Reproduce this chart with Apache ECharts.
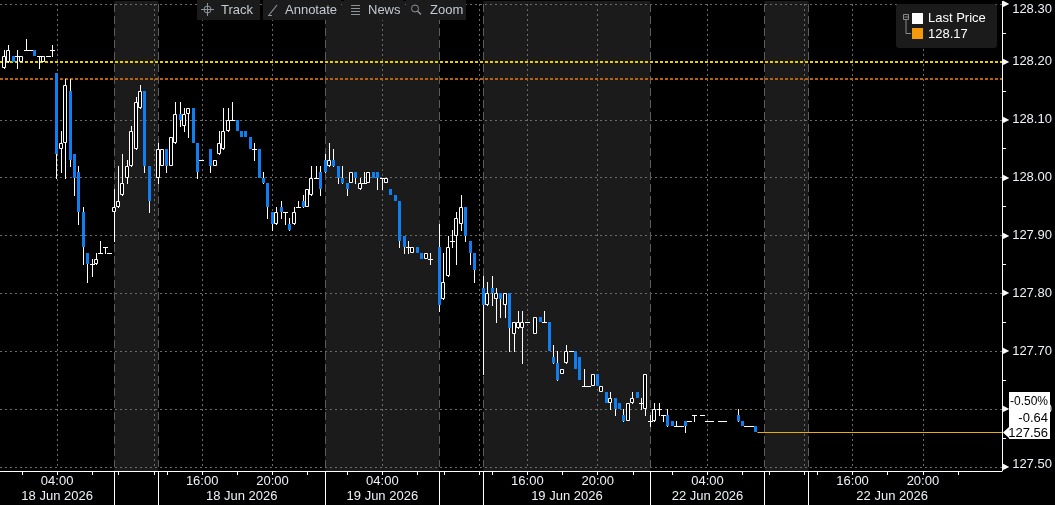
<!DOCTYPE html>
<html>
<head>
<meta charset="utf-8">
<script src="https://cdn.jsdelivr.net/npm/echarts@6/dist/echarts.min.js"></script>
<style>
html,body{margin:0;padding:0;background:#000;}
#chart{width:1055px;height:505px;}
</style>
</head>
<body>
<div id="chart"></div>
<script>
// ---------- DATA ----------
// trading sessions: [date, first 15-min slot, number of slots]
const sessions = [
  ['18 Jun 2026', '00:45', 26],
  ['18 Jun 2026', '09:45', 10],
  ['18 Jun 2026', '13:30', 38],
  ['19 Jun 2026', '00:45', 26],
  ['19 Jun 2026', '09:45', 10],
  ['19 Jun 2026', '13:30', 38],
  ['22 Jun 2026', '00:45', 26],
  ['22 Jun 2026', '09:45', 10],
  ['22 Jun 2026', '13:30', 38]
];
const padSlots = 6;
const timeLabels = ['04:00', '16:00', '20:00'];
const gridTimes = ['04:00', '12:00', '16:00', '20:00'];
const dateLabelTimes = ['04:00', '18:15'];
const yLabels = ['127.50', '127.60', '127.70', '127.80', '127.90', '128.00', '128.10', '128.20', '128.30'];
const prevClose = 128.20;
const refLine = 128.17;
const legendName = 'Last Price';
const toolbarItems = ['Track', 'Annotate', 'News', 'Zoom'];

const opens = [
  128.19,128.20,128.21,128.21,128.20,128.22,128.22,128.22,128.21,128.20,
  128.21,128.22,128.18,128.05,128.06,128.15,128.04,128.01,127.94,127.87,
  127.85,127.85,127.87,127.88,127.87,127.94,127.95,127.97,128.00,128.02,
  128.05,128.12,128.15,128.02,null,128.00,128.02,128.05,128.02,128.06,
  128.11,128.09,128.11,128.12,128.06,128.03,null,128.05,128.02,128.04,
  128.05,128.08,128.10,128.10,128.08,128.08,128.07,128.05,128.05,128.00,
  127.99,127.94,127.92,127.95,127.94,127.92,127.92,127.95,127.96,127.95,
  127.97,128.00,128.01,128.03,128.02,128.03,128.02,128.00,127.99,127.99,
  128.01,127.98,127.99,127.99,128.01,128.01,128.00,127.99,127.98,127.97,
  127.96,127.90,127.88,127.87,127.88,127.87,127.86,127.86,null,127.88,
  127.79,127.83,127.89,127.90,127.92,127.95,127.89,127.87,null,127.81,
  127.78,127.81,127.79,127.80,127.78,127.80,127.73,127.74,127.74,127.75,
  null,127.73,127.76,127.75,127.75,127.69,127.68,127.66,127.68,127.70,
  127.70,127.69,127.64,127.64,127.64,127.66,127.63,127.63,127.61,127.62,
  127.61,127.59,127.58,127.61,127.63,127.61,127.60,127.58,127.58,127.60,
  127.59,127.59,127.58,127.57,127.57,127.58,127.58,127.59,null,127.59,
  127.58,127.58,null,127.58,127.58,null,null,127.59,127.58,127.57,127.57,127.57
];
const highs = [
  128.22,128.23,128.21,128.22,128.21,128.24,128.22,128.22,128.21,128.21,
  128.21,128.23,128.18,128.08,128.17,128.17,128.04,128.02,127.95,127.87,
  127.86,127.87,127.89,127.88,127.87,127.98,128.02,128.04,128.03,128.09,
  128.14,128.16,128.15,128.02,null,128.06,128.05,128.05,128.07,128.13,
  128.13,128.12,128.12,128.12,128.06,128.03,null,128.05,128.03,128.08,
  128.12,128.12,128.13,128.10,128.08,128.08,128.07,128.06,128.05,128.01,
  127.99,127.94,127.95,127.96,127.94,127.93,127.95,127.96,127.97,127.98,
  128.02,128.02,128.02,128.04,128.06,128.05,128.02,128.02,127.99,128.01,
  128.01,128.00,128.01,128.01,128.01,128.01,128.00,128.00,127.98,127.97,
  127.96,127.90,127.89,127.88,127.88,127.87,127.87,127.87,null,127.92,
  127.87,127.90,127.91,127.94,127.97,127.95,127.89,127.87,null,127.83,
  127.82,127.83,127.81,127.80,127.80,127.80,127.75,127.77,127.77,127.75,
  null,127.76,127.76,127.77,127.75,127.71,127.70,127.67,127.71,127.70,
  127.70,127.69,127.67,127.64,127.66,127.66,127.64,127.63,127.63,127.62,
  127.61,127.60,127.61,127.63,127.63,127.62,127.66,127.59,127.61,127.61,
  127.59,127.60,127.58,127.58,127.57,127.58,127.58,127.59,null,127.59,
  127.58,127.58,null,127.58,127.58,null,null,127.60,127.58,127.57,127.57,127.57
];
const lows = [
  128.19,128.20,128.20,128.19,128.20,128.22,128.22,128.21,128.19,128.20,
  128.21,128.21,128.00,128.01,128.00,128.02,127.97,127.92,127.85,127.82,
  127.83,127.85,127.87,127.87,127.87,127.89,127.95,127.97,127.99,128.02,
  128.05,128.12,128.01,127.94,null,127.99,128.02,128.01,128.02,128.06,
  128.09,128.08,128.07,128.06,128.00,128.03,null,128.01,128.02,128.04,
  128.05,128.08,128.10,128.08,128.07,128.07,128.05,128.03,128.00,127.99,
  127.93,127.91,127.92,127.93,127.92,127.91,127.92,127.95,127.95,127.95,
  127.97,128.00,127.97,128.01,128.02,128.02,127.99,127.99,127.97,127.99,
  127.99,127.98,127.99,127.99,128.00,127.98,127.98,127.99,127.97,127.96,
  127.88,127.87,127.87,127.87,127.87,127.86,127.86,127.85,null,127.77,
  127.79,127.83,127.88,127.85,127.91,127.89,127.85,127.82,null,127.66,
  127.78,127.78,127.75,127.76,127.76,127.70,127.70,127.74,127.68,127.75,
  null,127.73,127.75,127.75,127.70,127.68,127.65,127.66,127.68,127.70,
  127.67,127.65,127.64,127.64,127.64,127.64,127.63,127.61,127.60,127.59,
  127.60,127.58,127.58,127.61,127.62,127.60,127.59,127.57,127.58,127.59,
  127.58,127.57,127.57,127.57,127.57,127.56,127.58,127.58,null,127.59,
  127.58,127.58,null,127.58,127.58,null,null,127.58,127.57,127.57,127.57,127.56
];
const closes = [
  128.21,128.22,128.20,128.21,128.21,128.22,128.22,128.21,128.21,128.21,
  128.21,128.22,128.04,128.06,128.16,128.03,128.00,127.94,127.88,127.85,
  127.85,127.86,127.87,127.88,127.87,127.95,127.96,127.99,128.02,128.08,
  128.13,128.15,128.02,127.96,null,128.05,128.05,128.02,128.07,128.11,
  128.10,128.11,128.12,128.06,128.01,128.03,null,128.02,128.03,128.06,
  128.08,128.10,128.10,128.08,128.07,128.07,128.05,128.05,128.00,127.99,
  127.95,127.92,127.94,127.94,127.94,127.91,127.94,127.95,127.95,127.98,
  128.00,128.00,127.98,128.01,128.03,128.02,128.00,127.99,127.98,128.01,
  128.00,127.99,127.99,128.01,128.00,128.00,128.00,128.00,127.97,127.96,
  127.89,127.88,127.88,127.88,127.87,127.86,127.87,127.86,null,127.78,
  127.82,127.88,127.89,127.93,127.95,127.90,127.87,127.84,null,127.78,
  127.80,127.80,127.80,127.79,127.80,127.74,127.75,127.75,127.75,127.75,
  null,127.76,127.75,127.75,127.70,127.68,127.65,127.67,127.70,127.70,
  127.67,127.65,127.64,127.64,127.66,127.64,127.64,127.61,127.62,127.60,
  127.60,127.58,127.61,127.62,127.62,127.61,127.66,127.58,127.60,127.60,
  127.59,127.57,127.57,127.57,127.57,127.57,127.58,127.59,null,127.59,
  127.58,127.58,null,127.58,127.58,null,null,127.58,127.57,127.57,127.57,127.56
];

// ---------- BUILD ----------
function addMinutes(t, m) {
  const p = t.split(':').map(Number);
  const tot = p[0] * 60 + p[1] + m;
  return String(Math.floor(tot / 60) % 24).padStart(2, '0') + ':' + String(tot % 60).padStart(2, '0');
}
const slotNames = [];
const sessionStarts = [];
const shadedSessions = [];
sessions.forEach(function (s, si) {
  const start = slotNames.length;
  sessionStarts.push(start);
  for (let k = 0; k < s[2]; k++) slotNames.push(s[0] + ' ' + addMinutes(s[1], 15 * k));
  if (si % 2 === 1) shadedSessions.push([start, slotNames.length - 1, 127.5]);
});
for (let k = 0; k < padSlots; k++) slotNames.push('pad' + k);
const edgeNames = slotNames.concat(['end']);
const boundarySet = new Set(sessionStarts.filter(function (v) { return v > 0; }));
function timeOf(name) { return name.indexOf('Jun') >= 0 ? name.slice(-5) : ''; }
function dateOf(name) { return name.indexOf('Jun') >= 0 ? name.slice(0, 11) : ''; }

const candleData = [];
for (let i = 0; i < opens.length; i++) {
  if (opens[i] != null) candleData.push([i, opens[i], closes[i], lows[i], highs[i]]);
}
const lastIdx = opens.length - 1;
const lastPrice = closes[lastIdx];
const chg = lastPrice - prevClose;
const chgPct = chg / prevClose * 100;

const FONT = '"Liberation Sans", Arial, sans-serif';
const TXT = '#eef2f6';
const GRIDC = '#6b6b6b';
const BAR_SHIFT = 0.35; // bars drawn slightly right of slot centre, as in the source chart

function renderCandle(params, api) {
  const i = api.value(0), o = api.value(1), c = api.value(2), l = api.value(3), h = api.value(4);
  const po = api.coord([i, o]);
  const bw = api.size([1, 0])[0];
  const x = Math.round(po[0] + BAR_SHIFT * bw);
  const yo = Math.round(po[1]);
  const yc = Math.round(api.coord([i, c])[1]);
  const yl = Math.round(api.coord([i, l])[1]);
  const yh = Math.round(api.coord([i, h])[1]);
  const top = Math.min(yo, yc), bot = Math.max(yo, yc);
  const ch = [];
  if (yh < top || yl > bot) {
    ch.push({type: 'line', shape: {x1: x + 0.5, y1: yh, x2: x + 0.5, y2: yl + 1}, style: {stroke: '#ffffff', lineWidth: 1}});
  }
  if (c > o) {
    ch.push({type: 'rect', shape: {x: x - 1.5, y: top + 0.5, width: 3, height: Math.max(bot - top - 1, 1)},
      style: {fill: '#000000', stroke: '#ffffff', lineWidth: 1}});
  } else if (c < o) {
    ch.push({type: 'rect', shape: {x: x - 1, y: top, width: 3, height: Math.max(bot - top, 1)},
      style: {fill: '#0f7ff0'}});
  } else {
    ch.push({type: 'line', shape: {x1: x - 2, y1: top + 0.5, x2: x + 3, y2: top + 0.5},
      style: {stroke: '#ffffff', lineWidth: 1}});
  }
  return {type: 'group', children: ch};
}

function renderBand(params, api) {
  const cs = params.coordSys;
  const half = api.size([1, 0])[0] / 2;
  const x0 = api.coord([api.value(0), api.value(2)])[0] - half;
  const x1 = api.coord([api.value(1), api.value(2)])[0] + half;
  return {type: 'rect', shape: {x: x0, y: cs.y - 3, width: x1 - x0, height: cs.height + 7},
    style: {fill: '#1b1b1b'}};
}

function renderLast(params, api) {
  const cs = params.coordSys;
  const p = api.coord([api.value(0), api.value(1)]);
  const bwid = api.size([1, 0])[0];
  const y = Math.round(p[1]);
  const right = cs.x + cs.width;
  const bx = right + 7, bw = 41, top = y - 40, bot = y + 7;
  const tstyle = function (t, ty, fs) {
    return {type: 'text', style: {text: t, x: bx + bw - 2, y: ty, fill: '#000000',
      font: fs + 'px ' + FONT, align: 'right', verticalAlign: 'middle'}};
  };
  return {type: 'group', children: [
    {type: 'line', shape: {x1: Math.round(right) + 0.5, y1: cs.y - 3, x2: Math.round(right) + 0.5, y2: cs.y + cs.height + 4},
      style: {stroke: '#ffffff', lineWidth: 1}},
    {type: 'line', shape: {x1: p[0] + (BAR_SHIFT + 0.5) * bwid, y1: y + 0.5, x2: right, y2: y + 0.5}, style: {stroke: '#e8b000', lineWidth: 1}},
    {type: 'polygon', shape: {points: [[right + 1, y + 0.5], [bx, y - 5], [bx, top], [bx + bw, top], [bx + bw, bot], [bx, bot], [bx, y + 6]]},
      style: {fill: '#ffffff'}},
    tstyle(chgPct.toFixed(2) + '%', top + 10, 12),
    tstyle(chg.toFixed(2), top + 26, 13),
    tstyle(lastPrice.toFixed(2), y + 1, 13)
  ]};
}

// toolbar + legend graphics
const graphics = [];
const tbX = [197, 263, 344, 406], tbW = [63, 78, 59, 60];
toolbarItems.forEach(function (name, k) {
  graphics.push({type: 'rect', shape: {x: tbX[k], y: 0, width: tbW[k], height: 20}, style: {fill: '#1b1b1b'}, z: 50});
  graphics.push({type: 'text', style: {text: name, x: tbX[k] + (k === 1 ? 22 : 24), y: 10, fill: '#c3cad1',
    font: '13px ' + FONT, verticalAlign: 'middle'}, z: 51});
});
const ic = '#8c939a';
// Track crosshair
graphics.push({type: 'circle', shape: {cx: 207.5, cy: 9.5, r: 3.5}, style: {fill: 'none', stroke: ic}, z: 51});
graphics.push({type: 'line', shape: {x1: 201, y1: 9.5, x2: 214, y2: 9.5}, style: {stroke: ic}, z: 51});
graphics.push({type: 'line', shape: {x1: 207.5, y1: 3, x2: 207.5, y2: 16}, style: {stroke: ic}, z: 51});
// Annotate pen
graphics.push({type: 'line', shape: {x1: 269, y1: 15, x2: 277, y2: 5}, style: {stroke: ic, lineWidth: 1.2}, z: 51});
graphics.push({type: 'line', shape: {x1: 268, y1: 15.5, x2: 272, y2: 15.5}, style: {stroke: ic}, z: 51});
// News lines
[5.5, 8.5, 11.5, 14.5].forEach(function (yy) {
  graphics.push({type: 'line', shape: {x1: 351, y1: yy, x2: 360, y2: yy}, style: {stroke: ic}, z: 51});
});
// Zoom magnifier
graphics.push({type: 'circle', shape: {cx: 415, cy: 8.5, r: 3.5}, style: {fill: 'none', stroke: ic}, z: 51});
graphics.push({type: 'line', shape: {x1: 417.5, y1: 11, x2: 421, y2: 14.5}, style: {stroke: ic, lineWidth: 1.5}, z: 51});
// legend
graphics.push({type: 'rect', shape: {x: 896, y: 4, width: 101, height: 44, r: 3}, style: {fill: '#1b1b1b'}, z: 50});
graphics.push({type: 'rect', shape: {x: 903.5, y: 14.5, width: 5, height: 5}, style: {fill: 'none', stroke: '#8a8a8a'}, z: 51});
graphics.push({type: 'line', shape: {x1: 904.5, y1: 17, x2: 908, y2: 17}, style: {stroke: '#8a8a8a'}, z: 51});
graphics.push({type: 'polyline', shape: {points: [[906, 20], [906, 33.5], [911, 33.5]]}, style: {stroke: '#8a8a8a', fill: 'none'}, z: 51});
graphics.push({type: 'rect', shape: {x: 912, y: 13, width: 11, height: 11}, style: {fill: '#ffffff'}, z: 51});
graphics.push({type: 'text', style: {text: legendName, x: 928, y: 18.5, fill: '#ffffff', font: '13px ' + FONT, verticalAlign: 'middle'}, z: 51});
graphics.push({type: 'rect', shape: {x: 912, y: 28, width: 11, height: 11}, style: {fill: '#f39a0c'}, z: 51});
graphics.push({type: 'text', style: {text: refLine.toFixed(2), x: 928, y: 34, fill: '#ffffff', font: '13px ' + FONT, verticalAlign: 'middle'}, z: 51});

const chart = echarts.init(document.getElementById('chart'), null, {renderer: 'canvas'});
chart.setOption({
  backgroundColor: '#000000',
  animation: false,
  textStyle: {fontFamily: FONT},
  grid: {left: 0, right: 53, top: 3, bottom: 38},
  graphic: graphics,
  xAxis: [
    {type: 'category', data: slotNames, boundaryGap: true, show: false},
    {type: 'category', data: edgeNames, boundaryGap: false, position: 'bottom', offset: 4, z: 3,
      axisLine: {show: true, onZero: false, lineStyle: {color: '#ffffff', width: 1}},
      axisTick: {show: true, length: 4, lineStyle: {color: '#ffffff'},
        interval: function (i, v) { const t = timeOf(v); return t !== '' && t.slice(3) === '00' && Number(t.slice(0, 2)) % 2 === 0; }},
      axisLabel: {show: true, color: TXT, fontSize: 13, margin: 4,
        interval: function (i, v) { return timeLabels.indexOf(timeOf(v)) >= 0; },
        formatter: function (v) { return timeOf(v); }},
      splitLine: {show: true, lineStyle: {color: GRIDC, type: [2, 3], width: 1},
        interval: function (i, v) { return gridTimes.indexOf(timeOf(v)) >= 0; }}
    },
    {type: 'category', data: edgeNames, boundaryGap: false, position: 'bottom', offset: 4, z: 3,
      axisLine: {show: false, onZero: false},
      axisTick: {show: true, length: 34, lineStyle: {color: '#ffffff'},
        interval: function (i) { return boundarySet.has(i); }},
      axisLabel: {show: true, color: TXT, fontSize: 13, margin: 19,
        interval: function (i, v) { return dateLabelTimes.indexOf(timeOf(v)) >= 0; },
        formatter: function (v) { return dateOf(v); }},
      splitLine: {show: true, lineStyle: {color: '#5c5c5c', type: [8, 4], width: 1},
        interval: function (i) { return boundarySet.has(i); }}
    }
  ],
  yAxis: {
    type: 'value', position: 'right', min: 127.5, max: 128.3, interval: 0.1, z: 3,
    axisLine: {show: true, onZero: false, lineStyle: {color: '#ffffff', width: 1}},
    axisTick: {show: false},
    minorTick: {show: true, splitNumber: 2, length: 4, lineStyle: {color: '#ffffff'}},
    splitLine: {show: true, lineStyle: {color: GRIDC, type: [2, 3], width: 1}},
    axisLabel: {
      margin: 1, color: TXT, fontSize: 13,
      formatter: function (v) {
        const s = yLabels.find(function (l) { return Math.abs(Number(l) - v) < 1e-6; }) || v.toFixed(2);
        if (s === yLabels[yLabels.length - 1]) return '{t|▶}{top|' + s + '}';
        if (s === yLabels[0]) return '{t|▶}{bot|' + s + '}';
        return '{t|▶}{v|' + s + '}';
      },
      rich: {
        t: {fontSize: 8, color: '#ffffff', fontFamily: 'DejaVu Sans', padding: [0, 3, 0, 0]},
        v: {fontSize: 13, color: TXT, fontFamily: FONT},
        top: {fontSize: 13, color: TXT, fontFamily: FONT, padding: [10, 0, 0, 0]},
        bot: {fontSize: 13, color: TXT, fontFamily: FONT, padding: [0, 0, 6, 0]}
      }
    }
  },
  series: [
    {type: 'custom', name: 'sessions', xAxisIndex: 0, yAxisIndex: 0, z: 1, silent: true, clip: false,
      data: shadedSessions, encode: {x: [0, 1], y: 2}, renderItem: renderBand},
    {type: 'line', name: 'ref', xAxisIndex: 0, yAxisIndex: 0, z: 4, silent: true, data: [],
      markLine: {silent: true, symbol: ['none', 'none'], label: {show: false}, animation: false,
        data: [
          {yAxis: prevClose, lineStyle: {color: '#e8cc00', width: 2, type: [3, 2]}},
          {yAxis: refLine, lineStyle: {color: '#b9620a', width: 2, type: [3, 2]}}
        ]}},
    {type: 'custom', name: legendName, xAxisIndex: 0, yAxisIndex: 0, z: 5, clip: true, silent: true,
      data: candleData, encode: {x: 0, y: [1, 2, 3, 4]}, renderItem: renderCandle},
    {type: 'custom', name: 'last', xAxisIndex: 0, yAxisIndex: 0, z: 10, clip: false, silent: true,
      data: [[lastIdx, lastPrice]], encode: {x: 0, y: 1}, renderItem: renderLast}
  ]
});
</script>
</body>
</html>
